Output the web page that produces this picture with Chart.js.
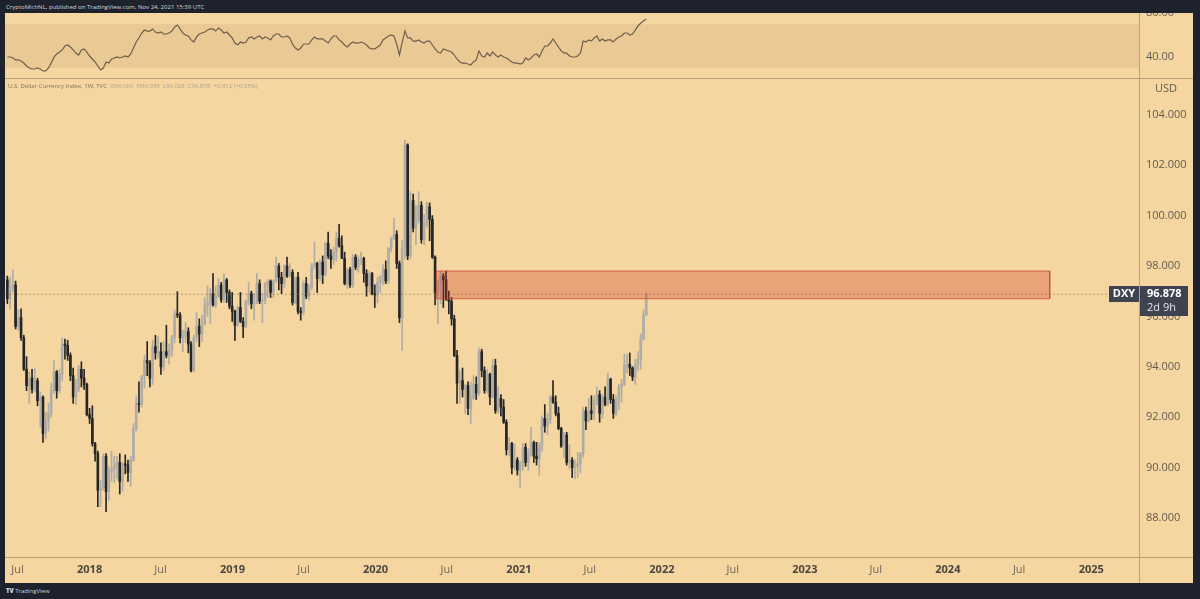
<!DOCTYPE html>
<html><head><meta charset="utf-8">
<script src="https://cdn.jsdelivr.net/npm/chart.js@4.4.1/dist/chart.umd.min.js"></script>
<style>
html,body{margin:0;padding:0;background:#1e222d;width:1200px;height:599px;overflow:hidden;position:relative}
#wrap{position:absolute;left:5px;top:13px;width:1188px;height:570px}
canvas{display:block}
#hdr{position:absolute;left:6px;top:3px;font:6px 'Open Sans',sans-serif;color:#d1d4dc;white-space:nowrap}
#leg{position:absolute;left:8px;top:82px;font:6px 'Open Sans',sans-serif;color:#7a7263;white-space:nowrap}
#leg span{color:#aaa192}
#logo{position:absolute;left:6px;top:587px;font:6px 'Open Sans',sans-serif;color:#d1d4dc;white-space:nowrap}
#logo b{font-weight:800}
</style></head>
<body>
<div id="hdr">CryptoMichNL, published on TradingView.com, Nov 24, 2021 15:39 UTC</div>
<div id="wrap"><canvas id="c" width="1188" height="570"></canvas></div>
<div id="leg">U.S. Dollar Currency Index, 1W, TVC &nbsp;<span>O96.066 &nbsp;H96.935 &nbsp;L96.028 &nbsp;C96.878 &nbsp;+0.812 (+0.85%)</span></div>
<div id="logo"><b>TV</b> TradingView</div>
<script>
// ---- data (weekly candles, first week starting 2017-06-05) ----
const FIRST_WEEK = '2017-06-05';
const OPEN = [
97.45,96.70,97.15,97.25,95.60,95.95,95.15,93.90,93.25,93.55,93.10,93.45,92.65,92.80,91.35,91.85,92.15,93.05,93.80,93.05,93.70,94.90,94.85,94.45,93.65,92.80,93.10,93.90,93.55,93.30,
92.10,91.95,90.95,90.55,89.10,89.20,90.45,89.05,89.85,89.95,90.10,90.20,89.45,90.15,90.10,89.80,90.30,91.55,92.55,92.50,93.65,94.25,94.15,93.55,94.80,94.55,94.60,94.00,94.60,94.45,94.65,95.15,96.10,96.05,95.15,95.20,95.40,94.90,93.85,95.15,95.60,95.30,95.70,96.45,96.55,96.90,96.45,96.80,97.25,96.65,97.45,96.95,96.40,
96.20,95.65,96.35,95.80,95.60,96.60,96.90,96.50,96.55,97.30,96.60,96.65,97.25,97.40,96.95,97.40,98.00,97.55,97.30,98.00,97.60,97.75,96.55,97.55,96.20,96.15,97.30,96.80,97.15,98.00,98.10,97.50,98.15,97.65,98.90,98.40,98.25,98.55,99.10,98.80,98.30,97.30,97.85,97.25,98.35,97.95,98.25,98.30,97.70,97.20,97.70,96.90,
96.85,97.35,97.60,97.85,97.40,98.70,99.10,99.25,98.10,95.95,98.70,102.80,98.40,100.60,99.50,99.80,100.40,99.05,99.70,100.35,99.85,98.35,96.95,97.30,97.60,97.45,96.65,96.60,95.90,94.45,93.35,93.45,93.10,93.25,92.35,92.75,93.30,92.95,94.60,93.85,93.05,93.70,92.80,94.05,92.25,92.75,92.40,91.80,90.70,90.95,90.00,90.30,
89.90,90.10,90.80,90.20,90.55,91.00,90.45,90.35,90.90,91.95,91.65,91.90,92.80,92.60,92.15,91.55,90.85,91.30,90.20,90.30,90.00,90.05,90.15,90.55,92.25,91.85,92.25,92.15,92.70,92.90,92.15,92.80,92.50,93.50,92.70,92.15,92.60,93.20,93.30,94.05,94.10,93.95,93.60,94.10,94.30,95.10,96.066];
const HIGH = [
97.60,97.55,97.85,97.40,96.25,96.30,95.25,94.40,93.80,93.90,93.95,93.55,93.00,92.85,92.20,92.55,93.35,94.25,93.85,93.90,95.15,95.10,95.05,94.55,93.95,93.50,94.05,94.20,93.90,93.35,
92.35,92.45,91.00,90.65,89.50,90.55,90.55,90.05,90.65,90.45,90.45,90.55,90.20,90.50,90.30,90.45,91.75,92.85,93.40,93.65,94.45,95.00,94.25,95.05,95.25,95.20,94.95,95.00,95.65,94.90,95.25,96.25,96.98,96.15,95.45,95.75,95.55,95.00,95.25,96.15,95.90,96.05,96.75,97.20,97.10,97.70,97.20,97.50,97.35,97.70,97.50,97.05,96.95,
96.25,96.40,96.95,95.95,96.65,97.35,97.00,96.90,97.70,97.45,96.90,97.35,97.45,97.45,97.45,98.35,98.10,97.75,98.05,98.35,98.10,97.85,97.55,97.75,96.35,97.40,97.55,97.25,98.10,98.95,98.15,98.25,98.40,98.95,99.35,98.65,98.75,99.35,99.65,99.20,98.55,97.90,97.95,98.45,98.45,98.40,98.55,98.35,97.85,97.80,97.75,97.25,
97.55,97.60,98.05,98.20,98.75,99.15,99.90,99.40,98.20,99.00,102.99,102.85,100.95,100.85,100.40,100.95,100.55,100.05,100.55,100.50,100.00,98.40,97.45,97.80,97.70,97.80,97.00,96.75,96.05,94.65,93.85,93.95,93.30,93.40,93.40,93.65,93.60,94.75,94.70,94.00,93.90,93.75,94.30,94.30,93.20,92.90,92.70,91.90,91.20,91.00,90.95,90.40,
90.25,90.95,90.95,90.75,91.60,91.05,91.00,91.00,92.05,92.50,92.15,92.85,93.45,92.85,92.40,91.60,91.40,91.40,90.90,90.40,90.30,90.60,90.60,92.40,92.40,92.75,92.85,92.85,93.20,93.05,92.90,93.20,93.75,93.55,92.90,92.85,93.30,93.50,94.50,94.50,94.55,94.00,94.30,94.60,95.30,96.25,96.935];
const LOW = [
96.50,96.30,96.95,95.50,95.45,95.05,93.85,93.05,92.55,92.95,93.00,92.45,91.60,91.00,91.15,91.45,92.00,92.95,92.75,92.95,93.45,94.30,94.25,93.45,92.55,92.50,93.00,93.20,93.10,92.05,
91.75,90.85,90.25,88.45,88.45,89.10,88.25,88.70,89.45,89.40,89.55,88.95,89.05,89.75,89.45,89.25,90.25,91.45,92.20,92.40,93.15,93.65,93.20,93.30,94.30,94.35,93.70,93.85,94.35,94.10,94.40,94.95,95.95,94.95,94.60,94.95,94.55,93.80,93.80,95.00,94.80,95.00,95.65,96.00,95.70,96.40,96.35,96.75,96.55,96.55,96.55,96.30,95.80,
95.05,95.60,95.75,95.15,95.55,96.45,96.30,95.85,96.50,96.50,95.75,96.50,96.75,96.75,96.75,97.35,97.05,96.90,97.15,97.55,97.55,96.45,96.50,96.10,95.85,96.05,96.70,96.65,97.05,97.90,96.95,97.40,97.30,97.60,98.30,97.90,98.05,98.20,98.75,98.30,97.25,97.10,97.15,97.15,97.85,97.75,98.05,97.35,96.80,96.95,96.85,96.35,
96.55,96.95,97.25,97.30,97.30,98.55,99.05,97.90,95.75,94.65,98.30,98.25,98.30,99.35,98.85,99.70,98.90,98.85,99.55,99.00,98.30,96.45,95.70,96.50,96.35,96.65,96.10,95.65,94.40,92.55,92.55,92.80,92.15,92.10,91.75,92.70,92.70,92.85,93.60,92.95,92.95,92.50,92.75,92.15,92.15,92.05,91.75,90.50,90.45,89.75,89.90,89.70,
89.20,89.90,90.05,89.90,90.45,90.20,90.10,89.70,90.65,91.40,91.30,91.75,92.55,92.05,91.50,90.80,90.40,90.10,89.95,89.60,89.55,89.60,89.80,90.40,91.50,91.80,91.90,91.90,92.50,91.80,91.95,92.45,92.45,92.55,91.95,92.05,92.30,92.60,93.25,93.75,93.65,93.45,93.30,93.85,93.90,95.05,96.028];
const CLOSE = [
96.70,97.15,97.25,95.60,95.95,95.15,93.90,93.25,93.55,93.10,93.45,92.65,92.80,91.35,91.85,92.15,93.05,93.80,93.05,93.70,94.90,94.85,94.45,93.65,92.80,93.10,93.90,93.55,93.30,92.10,
91.95,90.95,90.55,89.10,89.20,90.45,89.05,89.85,89.95,90.10,90.20,89.45,90.15,90.10,89.80,90.30,91.55,92.55,92.50,93.65,94.25,94.15,93.55,94.80,94.55,94.60,94.00,94.60,94.45,94.65,95.15,96.10,96.05,95.15,95.20,95.40,94.90,93.85,95.15,95.60,95.30,95.70,96.45,96.55,96.90,96.45,96.80,97.25,96.65,97.45,96.95,96.40,96.20,
95.65,96.35,95.80,95.60,96.60,96.90,96.50,96.55,97.30,96.60,96.65,97.25,97.40,96.95,97.40,98.00,97.55,97.30,98.00,97.60,97.75,96.55,97.55,96.20,96.15,97.30,96.80,97.15,98.00,98.10,97.50,98.15,97.65,98.90,98.40,98.25,98.55,99.10,98.80,98.30,97.30,97.85,97.25,98.35,97.95,98.25,98.30,97.70,97.20,97.70,96.90,96.85,
97.35,97.60,97.85,97.40,98.70,99.10,99.25,98.10,95.95,98.70,102.80,98.40,100.60,99.50,99.80,100.40,99.05,99.70,100.35,99.85,98.35,96.95,97.30,97.60,97.45,96.65,96.60,95.90,94.45,93.35,93.45,93.10,93.25,92.35,92.75,93.30,92.95,94.60,93.85,93.05,93.70,92.80,94.05,92.25,92.75,92.40,91.80,90.70,90.95,90.00,90.30,89.90,
90.10,90.80,90.20,90.55,91.00,90.45,90.35,90.90,91.95,91.65,91.90,92.80,92.60,92.15,91.55,90.85,91.30,90.20,90.30,90.00,90.05,90.15,90.55,92.25,91.85,92.25,92.15,92.70,92.90,92.15,92.80,92.50,93.50,92.70,92.15,92.60,93.20,93.30,94.05,94.10,93.95,93.60,94.10,94.30,95.10,96.05,96.878];
const RSI = [
40.0,40.0,39.1,37.3,37.3,36.4,34.5,31.8,30.0,29.1,29.1,30.0,29.1,27.3,27.3,30.0,34.5,40.0,42.7,44.5,46.4,50.0,50.9,49.1,46.4,43.6,41.8,46.4,47.3,44.5,
40.9,38.2,35.5,31.8,28.2,30.0,35.5,34.5,38.2,39.1,40.0,39.1,40.0,40.9,40.0,42.7,48.2,53.6,57.3,61.8,64.5,63.6,63.6,65.5,62.7,61.8,62.7,60.9,60.9,61.8,63.6,67.3,69.1,65.5,61.8,60.0,59.1,55.5,53.6,58.2,60.9,61.8,62.7,64.5,65.5,65.5,63.6,66.4,64.5,61.8,62.7,60.0,57.3,
52.7,50.9,53.6,52.7,53.6,57.3,58.2,56.4,58.2,59.1,56.4,58.2,57.3,55.5,59.1,60.9,60.9,58.2,58.2,59.1,57.3,51.8,48.2,46.4,48.2,51.8,51.8,51.8,55.5,58.2,56.4,56.4,56.4,54.5,52.7,56.4,59.1,59.1,55.5,53.6,50.9,49.1,51.8,53.6,52.7,52.7,53.6,52.7,50.9,48.2,47.3,47.3,
49.1,50.9,55.5,57.3,59.1,60.0,59.1,51.8,41.8,53.6,63.6,57.3,57.3,54.5,54.5,55.5,53.6,52.7,54.5,54.5,50.9,47.3,44.5,43.6,47.3,46.4,45.5,44.5,41.8,38.2,35.5,34.5,34.5,33.6,32.7,35.5,37.3,45.5,40.9,40.0,43.6,40.9,44.5,41.8,40.0,41.8,40.0,39.1,37.3,35.5,34.5,34.5,
33.6,34.5,39.1,37.3,39.1,41.8,42.7,40.0,45.5,50.0,50.0,52.7,56.4,52.7,49.1,45.5,43.6,43.6,40.9,40.0,40.0,40.9,43.6,54.5,53.6,55.5,54.5,57.3,59.1,54.5,56.4,54.5,55.5,55.5,53.6,56.4,58.2,59.1,61.8,61.8,60.0,60.9,64.5,68.2,70.9,72.7,74.5];
const PRICE_TICKS = [88,90,92,94,96,98,100,102,104];
const RSI_TICKS = [40,80];
const RSI_BAND = [30,70];
const TIME_TICKS = ['2017-07-01','2018-01-01','2018-07-01','2019-01-01','2019-07-01','2020-01-01','2020-07-01','2021-01-01','2021-07-01','2022-01-01','2022-07-01','2023-01-01','2023-07-01','2024-01-01','2024-07-01','2025-01-01'];
const X_RANGE = ['2017-05-30','2025-05-03'];
const PRICE_RANGE = [86.45,105.46];
const RSI_RANGE = [20.9,80];
const ZONE_DATES = ['2020-06-04','2024-09-17'];
const ZONE_PRICES = [96.70,97.80];
const LAST_PRICE = 96.878;
const SYMBOL = 'DXY';
const COUNTDOWN = '2d 9h';

// ---- derived ----
const DAY = 864e5;
const t0 = Date.parse(FIRST_WEEK);
const weeks = OPEN.map((_, i) => t0 + i * 7 * DAY);
const xMin = Date.parse(X_RANGE[0]), xMax = Date.parse(X_RANGE[1]);
const UP = '#aeaca7', DOWN = '#262626', BG = '#f6d6a0';
const candleColor = c => CLOSE[c.dataIndex] >= OPEN[c.dataIndex] ? UP : DOWN;
const za = Date.parse(ZONE_DATES[0]), zb = Date.parse(ZONE_DATES[1]);
const FONT = "'Open Sans', sans-serif";
Chart.defaults.font.family = FONT;
const isYearTick = c => !!(c && c.tick) && new Date(c.tick.value).getUTCMonth() === 0;

const framePlugin = {
  id: 'frame',
  beforeDraw(chart) {
    const {ctx, width, height} = chart;
    ctx.save(); ctx.fillStyle = BG; ctx.fillRect(0, 0, width, height); ctx.restore();
  },
  afterDraw(chart) {
    const {ctx, width, height, chartArea} = chart;
    const yS = chart.scales.y;
    ctx.save();
    ctx.strokeStyle = '#b9a07b'; ctx.lineWidth = 1;
    ctx.beginPath();
    const vx = Math.round(chartArea.right) + 0.5;
    ctx.moveTo(vx, 0); ctx.lineTo(vx, height);
    const s1 = Math.round(yS.top) + 0.5; ctx.moveTo(0, s1); ctx.lineTo(width, s1);
    const s2 = Math.round(yS.bottom) + 0.5; ctx.moveTo(0, s2); ctx.lineTo(width, s2);
    ctx.stroke();
    ctx.fillStyle = '#625b50'; ctx.font = '11px ' + FONT; ctx.textAlign = 'center'; ctx.textBaseline = 'middle';
    ctx.fillText('USD', (chartArea.right + width) / 2, yS.top + 11);
    const py = Math.round(yS.getPixelForValue(LAST_PRICE));
    const r = Math.round(chartArea.right);
    ctx.fillStyle = '#3f4350';
    ctx.fillRect(r - 30, py - 8, 30, 16);
    ctx.fillRect(r + 1, py - 8, 48, 30);
    ctx.fillStyle = '#ffffff';
    ctx.font = 'bold 11px ' + FONT;
    ctx.fillText(SYMBOL, r - 15, py);
    ctx.textAlign = 'left';
    ctx.fillText(LAST_PRICE.toFixed(3), r + 8, py);
    ctx.font = '11px ' + FONT; ctx.fillStyle = '#e6e7ea';
    ctx.fillText(COUNTDOWN, r + 8, py + 14);
    ctx.restore();
  }
};

new Chart(document.getElementById('c'), {
  type: 'bar',
  data: {
    datasets: [
      { type: 'line', label: 'zone', yAxisID: 'y', order: 0,
        data: [{x: za, y: ZONE_PRICES[0]}, {x: za, y: ZONE_PRICES[1]}, {x: zb, y: ZONE_PRICES[1]}, {x: zb, y: ZONE_PRICES[0]}, {x: za, y: ZONE_PRICES[0]}],
        fill: 'shape', backgroundColor: 'rgba(205,55,40,0.32)', borderColor: 'rgba(205,70,45,0.75)', borderWidth: 1, pointRadius: 0, tension: 0 },
      { type: 'line', label: 'last', yAxisID: 'y', order: 1,
        data: [{x: xMin, y: LAST_PRICE}, {x: xMax, y: LAST_PRICE}],
        borderColor: 'rgba(120,95,70,0.5)', borderWidth: 1, borderDash: [2, 2], pointRadius: 0, fill: false },
      { label: 'body', yAxisID: 'y', order: 2, grouped: false, barThickness: 2,
        data: weeks.map((x, i) => ({x, y: [OPEN[i], CLOSE[i]]})),
        backgroundColor: candleColor, borderWidth: 0 },
      { label: 'wick', yAxisID: 'y', order: 3, grouped: false, barThickness: 1,
        data: weeks.map((x, i) => ({x, y: [LOW[i], HIGH[i]]})),
        backgroundColor: candleColor, borderWidth: 0 },
      { type: 'line', label: 'rsi', yAxisID: 'yRsi', order: 0,
        data: weeks.map((x, i) => ({x, y: RSI[i]})),
        borderColor: '#6e5f4b', borderWidth: 1.2, pointRadius: 0, tension: 0, fill: false },
      { type: 'line', label: 'bandHi', yAxisID: 'yRsi', order: 5,
        data: [{x: xMin, y: RSI_BAND[1]}, {x: xMax, y: RSI_BAND[1]}],
        borderWidth: 0, pointRadius: 0, fill: '+1', backgroundColor: 'rgba(120,80,40,0.09)' },
      { type: 'line', label: 'bandLo', yAxisID: 'yRsi', order: 6,
        data: [{x: xMin, y: RSI_BAND[0]}, {x: xMax, y: RSI_BAND[0]}],
        borderWidth: 0, pointRadius: 0, fill: false }
    ]
  },
  options: {
    responsive: false, animation: false, devicePixelRatio: 1,
    layout: { padding: 0, autoPadding: false },
    plugins: { legend: { display: false }, tooltip: { enabled: false } },
    events: [],
    scales: {
      x: {
        type: 'linear', position: 'bottom', min: xMin, max: xMax, offset: false,
        grid: { display: false, drawTicks: false, offset: false }, border: { display: false },
        afterBuildTicks: s => { s.ticks = TIME_TICKS.map(d => ({value: Date.parse(d)})); },
        afterFit: s => { s.height = 26; s.paddingLeft = 0; s.paddingRight = 0; },
        ticks: {
          autoSkip: false, maxRotation: 0, padding: 6,
          callback: v => { const d = new Date(v); return d.getUTCMonth() === 0 ? String(d.getUTCFullYear()) : 'Jul'; },
          font: c => ({ family: FONT, size: 11, weight: isYearTick(c) ? 'bold' : 'normal' }),
          color: c => isYearTick(c) ? '#4a463f' : '#6f685c'
        }
      },
      yRsi: {
        type: 'linear', position: 'right', stack: 'panes', stackWeight: 65,
        min: RSI_RANGE[0], max: RSI_RANGE[1],
        grid: { display: false, drawTicks: false }, border: { display: false },
        afterBuildTicks: s => { s.ticks = RSI_TICKS.map(v => ({value: v})); },
        afterFit: s => { s.width = 54; s.paddingTop = 0; s.paddingBottom = 0; },
        ticks: { padding: 7, color: '#625b50', font: { size: 11 }, callback: v => Number(v).toFixed(2) }
      },
      y: {
        type: 'linear', position: 'right', stack: 'panes', stackWeight: 479,
        min: PRICE_RANGE[0], max: PRICE_RANGE[1],
        grid: { display: false, drawTicks: false }, border: { display: false },
        afterBuildTicks: s => { s.ticks = PRICE_TICKS.map(v => ({value: v})); },
        afterFit: s => { s.width = 54; s.paddingTop = 0; s.paddingBottom = 0; },
        ticks: { padding: 7, color: '#625b50', font: { size: 11 }, callback: v => Number(v).toFixed(3) }
      }
    }
  },
  plugins: [framePlugin]
});
</script>
</body></html>
